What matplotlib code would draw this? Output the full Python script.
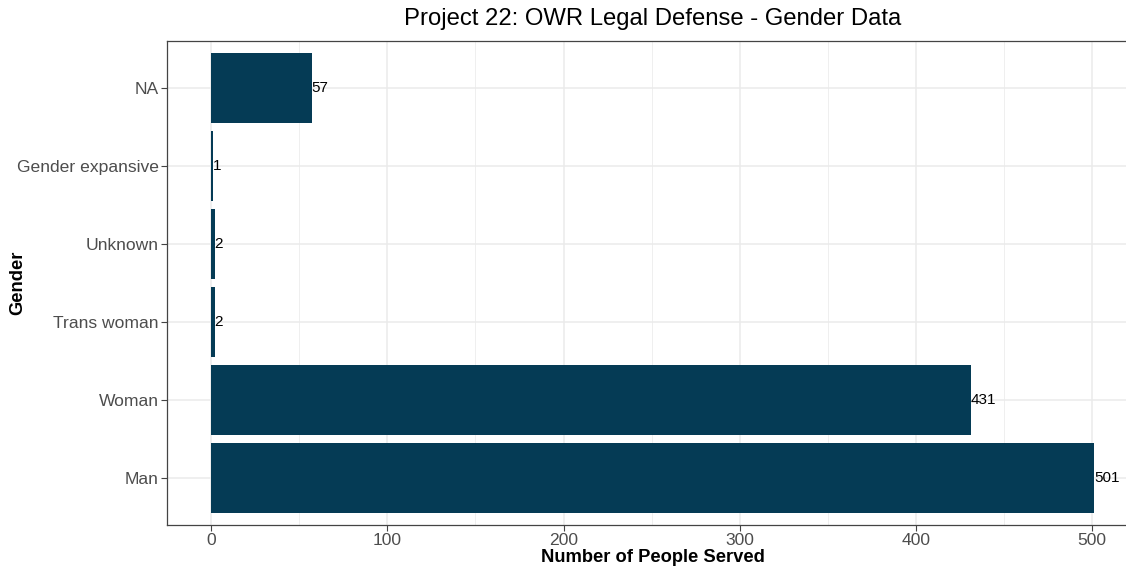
import matplotlib.pyplot as plt
from matplotlib.ticker import MultipleLocator

plt.rcParams['font.family'] = ['Liberation Sans', 'DejaVu Sans']

genders = ['Man', 'Woman', 'Trans woman', 'Unknown', 'Gender expansive', 'NA']
counts = [501, 431, 2, 2, 1, 57]
bar_color = '#053b55'

fig = plt.figure(figsize=(11.26, 5.69), dpi=100)
# panel runs past the right edge, as in the cropped original
ax = fig.add_axes([167 / 1126, 1 - 524.8 / 569, (1138 - 167) / 1126, (524.8 - 41.2) / 569])

ypos = list(range(len(genders)))
ax.barh(ypos, counts, height=0.9, color=bar_color, zorder=3)
for y, v in zip(ypos, counts):
    ax.text(v, y, str(v), va='center', ha='left', fontsize=11, color='black', zorder=4)

ax.set_xlim(-25.05, 526.05)
ax.set_ylim(-0.6, 5.6)
ax.set_yticks(ypos)
ax.set_yticklabels(genders)
ax.xaxis.set_major_locator(MultipleLocator(100))
ax.xaxis.set_minor_locator(MultipleLocator(50))

ax.grid(which='major', color='#ebebeb', linewidth=1.1, zorder=0)
ax.grid(which='minor', axis='x', color='#ebebeb', linewidth=0.55, zorder=0)
ax.set_axisbelow(True)

ax.tick_params(axis='both', which='major', length=4, width=0.8, color='#444444',
               labelcolor='#4d4d4d', labelsize=12.6, pad=2)
ax.tick_params(axis='both', which='minor', length=0)
for s in ax.spines.values():
    s.set_color('#444444')
    s.set_linewidth(0.9)
ax.spines['right'].set_visible(False)

# axis titles placed where the original has them
fig.text((167 + 1138) / 2 / 1126, 1 - 557 / 569, 'Number of People Served',
         ha='center', va='center', fontsize=13.2, fontweight='bold')
fig.text(18 / 1126, 1 - 283 / 569, 'Gender', rotation=90,
         ha='center', va='center', fontsize=13.2, fontweight='bold')
fig.text((167 + 1138) / 2 / 1126, 1 - 19 / 569, 'Project 22: OWR Legal Defense - Gender Data',
         ha='center', va='center', fontsize=17.2, color='black')

fig.savefig('out.png', dpi=100)
